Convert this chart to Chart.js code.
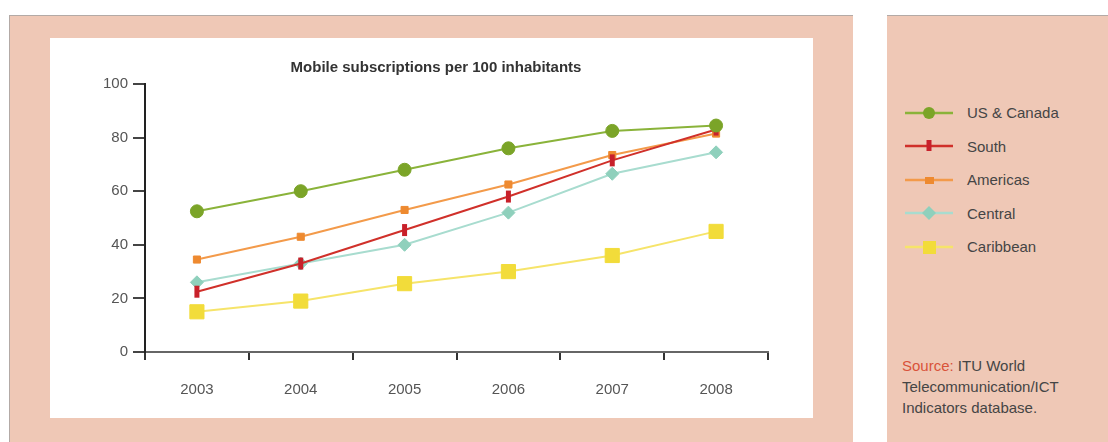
<!DOCTYPE html>
<html>
<head>
<meta charset="utf-8">
<script src="https://cdn.jsdelivr.net/npm/chart.js@4.4.1/dist/chart.umd.min.js"></script>
<style>
  body { margin: 0; width: 1108px; height: 442px; background: #fff; overflow: hidden; position: relative; font-family: "Liberation Sans", Arial, sans-serif; }
  .panel { position: absolute; background: #efc8b6; border-top: 1px solid #b3aaa6; }
  #left-panel { left: 9px; top: 15px; width: 843px; height: 427px; border-left: 1px solid #b3aaa6; }
  #right-panel { left: 887px; top: 15px; width: 221px; height: 427px; }
  #chart-box { position: absolute; left: 50px; top: 38px; width: 763px; height: 380px; background: #fff; }
  #legend { position: absolute; left: 905px; top: 96px; }
  .legend-row { display: flex; align-items: center; height: 33.5px; color: #454545; font-size: 15px; }
  .legend-row svg { margin-right: 12px; }
  #source { position: absolute; left: 902px; top: 355px; font-size: 15px; line-height: 21px; color: #454545; }
  #source span { color: #d9533a; }
</style>
</head>
<body>
<div class="panel" id="left-panel"></div>
<div class="panel" id="right-panel"></div>
<div id="chart-box"><canvas id="mobile-chart" width="763" height="380"></canvas></div>
<div id="legend"></div>
<div id="source"><span>Source:</span> ITU World<br>Telecommunication/ICT<br>Indicators database.</div>
<script>
const YEARS = ['2003', '2004', '2005', '2006', '2007', '2008'];
const Y_TICKS = [0, 20, 40, 60, 80, 100];
const SERIES_NAMES = ['US & Canada', 'South', 'Americas', 'Central', 'Caribbean'];
const US_CANADA = [52.5, 60, 68, 76, 82.5, 84.5];
const SOUTH = [22.5, 33, 45.5, 58, 71.5, 83];
const AMERICAS = [34.5, 43, 53, 62.5, 73.5, 81.5];
const CENTRAL = [26, 33, 40, 52, 66.5, 74.5];
const CARIBBEAN = [15, 19, 25.5, 30, 36, 45];

const LINE_COLORS = ['#8ab33a', '#d0302a', '#f39a4a', '#a8dccf', '#f6e46a'];
const MARK_COLORS = ['#7ba428', '#c8202a', '#ee8a30', '#8fd0bc', '#f2dc3a'];
const TICK_FONT = { family: '"Liberation Sans", Arial, sans-serif', size: 15 };

function makeSet(i, data, style) {
  return Object.assign({
    label: SERIES_NAMES[i],
    data,
    borderColor: LINE_COLORS[i],
    borderWidth: 2,
    backgroundColor: MARK_COLORS[i],
    pointBackgroundColor: MARK_COLORS[i],
    pointBorderColor: MARK_COLORS[i],
    pointBorderWidth: 1,
    tension: 0,
  }, style);
}

const datasets = [
  makeSet(0, US_CANADA, { pointStyle: 'circle', pointRadius: 6.5 }),
  makeSet(1, SOUTH, { pointStyle: 'line', pointRotation: 90, pointRadius: 6, pointBorderWidth: 5 }),
  makeSet(2, AMERICAS, { pointStyle: 'rect', pointRadius: 5 }),
  makeSet(3, CENTRAL, { pointStyle: 'rectRot', pointRadius: 6.5 }),
  makeSet(4, CARIBBEAN, { pointStyle: 'rect', pointRadius: 10 }),
];

new Chart(document.getElementById('mobile-chart'), {
  type: 'line',
  data: { labels: YEARS, datasets },
  options: {
    responsive: false,
    animation: false,
    // left padding + an empty right axis keep the title centred where the original has it
    layout: { padding: { left: 9, right: 0, top: 0, bottom: 0 } },
    plugins: {
      legend: { display: false },
      tooltip: { enabled: false },
      title: {
        display: true,
        text: 'Mobile subscriptions per 100 inhabitants',
        color: '#333',
        font: { family: '"Liberation Sans", Arial, sans-serif', size: 15, weight: 'bold', lineHeight: 1.2 },
        padding: { top: 21, bottom: 7 },
      },
    },
    scales: {
      x: {
        offset: true,
        grid: { offset: true, drawOnChartArea: false, tickLength: 8, color: '#333', lineWidth: 2 },
        border: { color: '#666', width: 2 },
        ticks: { padding: 21, color: '#555', font: TICK_FONT },
        afterFit: (s) => { s.height = 66; },
      },
      y: {
        min: 0,
        max: 100,
        afterBuildTicks: (s) => { s.ticks = Y_TICKS.map((v) => ({ value: v })); },
        grid: { drawOnChartArea: false, tickLength: 12, color: '#444', lineWidth: 2 },
        border: { color: '#222', width: 2 },
        ticks: { padding: 5, color: '#555', font: TICK_FONT },
        afterFit: (s) => { s.width = 86; },
      },
      yRight: {
        position: 'right',
        display: true,
        grid: { display: false },
        border: { display: false },
        ticks: { display: false },
        afterFit: (s) => { s.width = 45; },
      },
    },
  },
});

// legend on the right-hand panel
function markerSvg(i, style) {
  const c = MARK_COLORS[i];
  let m = '';
  if (style === 'circle') m = `<circle cx="24" cy="8" r="6" fill="${c}"/>`;
  if (style === 'bar') m = `<rect x="21.5" y="2" width="5" height="11" fill="${c}"/>`;
  if (style === 'small') m = `<rect x="20" y="5" width="9" height="7" fill="${c}"/>`;
  if (style === 'diamond') m = `<polygon points="24,1 31,8 24,15 17,8" fill="${c}"/>`;
  if (style === 'square') m = `<rect x="18" y="2" width="13" height="13" fill="${c}"/>`;
  return `<svg width="50" height="16"><line x1="0" y1="8" x2="48" y2="8" stroke="${LINE_COLORS[i]}" stroke-width="2.5"/>${m}</svg>`;
}
const LEGEND_STYLES = ['circle', 'bar', 'small', 'diamond', 'square'];
document.getElementById('legend').innerHTML = SERIES_NAMES
  .map((name, i) => `<div class="legend-row">${markerSvg(i, LEGEND_STYLES[i])}<span>${name}</span></div>`)
  .join('');
</script>
</body>
</html>
